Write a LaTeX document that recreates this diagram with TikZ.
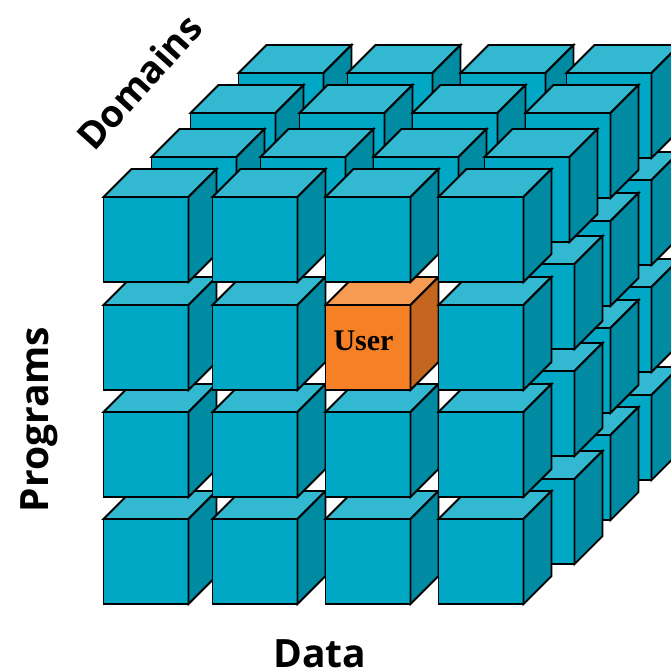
\documentclass[tikz,border=0pt]{standalone}
\usepackage{fontspec}
\setmainfont{Open Sans}
\newfontfamily\userfont{Liberation Serif}
\definecolor{cfront}{HTML}{00A8C6}
\definecolor{ctop}{HTML}{33B8D1}
\definecolor{cside}{HTML}{008BA3}
\definecolor{ofront}{HTML}{F58025}
\definecolor{otop}{HTML}{F79A52}
\definecolor{oside}{HTML}{C4661F}
\tikzset{
  cubeline/.style={draw=black,line width=1.8pt,line join=miter},
  axislabel/.style={font=\fontsize{39}{40}\selectfont\bfseries,inner sep=0pt,text=black},
  domainlabel/.style={font=\fontsize{37.5}{40}\selectfont\bfseries,inner sep=0pt,text=black},
  userlabel/.style={font=\userfont\fontsize{30}{30}\selectfont\bfseries,inner sep=0pt,text=black}
}
% #1 x, #2 y of the front face's upper left corner, #3 colour prefix
\newcommand{\cubeat}[3]{%
  \fill[#3front,cubeline] (#1,#2) rectangle ++(85,85);
  \fill[#3top,cubeline] (#1,#2) -- ++(28,-28) -- ++(85,0) -- ++(-28,28) -- cycle;
  \fill[#3side,cubeline] ({#1+85},#2) -- ++(28,-28) -- ++(0,85) -- ++(-28,28) -- cycle;
}
\begin{document}
\begin{tikzpicture}[x=1pt,y=-1pt]
\useasboundingbox (0,0) rectangle (671,670);
\clip (0,0) rectangle (671,670);
% back layer
\foreach \y in {395,287,180} {\cubeat{566.5}{\y}{c}}
\foreach \x in {238.5,347.5,460.5,566.5} {\cubeat{\x}{73}{c}}
% third layer
\foreach \y in {435,328,221} {\cubeat{525.5}{\y}{c}}
\foreach \x in {190.5,299.5,412.5,525.5} {\cubeat{\x}{113}{c}}
% second layer
\foreach \y in {479,371,264} {\cubeat{489.5}{\y}{c}}
\foreach \x in {151.5,260.5,373.5,484.5} {\cubeat{\x}{157}{c}}
% front layer
\foreach \x in {103.5,212.5,325.5,438.5} {\cubeat{\x}{519}{c}}
\foreach \x in {103.5,212.5,325.5,438.5} {\cubeat{\x}{412}{c}}
\cubeat{103.5}{305}{c}
\cubeat{212.5}{305}{c}
\cubeat{325.5}{305}{o}
\cubeat{438.5}{305}{c}
\foreach \x in {103.5,212.5,325.5,438.5} {\cubeat{\x}{197}{c}}
\node[userlabel] (user) at (363.5,341) {User};
\node[domainlabel,rotate=48] (domains) at (139,82) {Domains};
\node[axislabel,rotate=90,anchor=base] (programs) at (48,419.5) {Programs};
\node[axislabel,anchor=base] (data) at (320,667) {Data};
\end{tikzpicture}
\end{document}
